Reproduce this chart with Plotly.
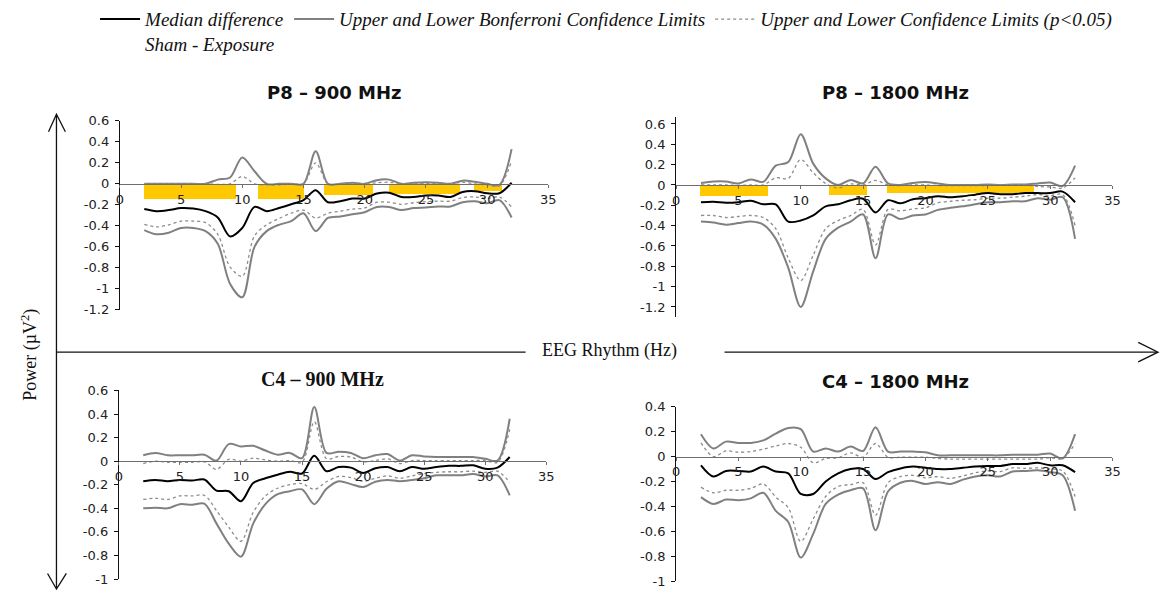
import plotly.graph_objects as go

# Frequency grid (Hz)
freq = list(range(2, 33))

# ---- P8 - 900 MHz ----
p8_900_median = [-0.24, -0.26, -0.25, -0.23, -0.235, -0.26, -0.32, -0.50, -0.42, -0.22, -0.26, -0.23, -0.195, -0.155,
                 -0.06, -0.175, -0.165, -0.14, -0.14, -0.093, -0.085, -0.125, -0.125, -0.11, -0.11, -0.125, -0.077,
                 -0.07, -0.09, -0.09, 0.01]
p8_900_bonf_up = [0.0, 0.0, 0.0, 0.0, 0.0, 0.0, 0.04, 0.06, 0.25, 0.12, 0.0, 0.0, 0.0, 0.0, 0.31, 0.0, 0.0, 0.01, 0.0,
                  0.035, 0.04, 0.0, 0.01, 0.015, 0.01, 0.0, 0.03, 0.02, 0.0, -0.01, 0.33]
p8_900_bonf_lo = [-0.44, -0.48, -0.465, -0.42, -0.42, -0.45, -0.57, -0.95, -1.08, -0.60, -0.45, -0.39, -0.355, -0.28,
                  -0.45, -0.325, -0.31, -0.29, -0.27, -0.22, -0.22, -0.25, -0.23, -0.225, -0.215, -0.215, -0.175,
                  -0.165, -0.185, -0.155, -0.32]
p8_900_ci_up = [0.0, 0.0, 0.0, 0.0, 0.0, 0.0, -0.005, 0.0, 0.07, 0.0, -0.01, -0.01, 0.0, 0.0, 0.2, 0.0, 0.0, 0.0, 0.0,
                0.01, 0.015, 0.0, 0.0, 0.005, 0.0, 0.0, 0.015, 0.0, -0.01, -0.02, 0.22]
p8_900_ci_lo = [-0.385, -0.41, -0.39, -0.355, -0.355, -0.37, -0.48, -0.79, -0.88, -0.495, -0.39, -0.33, -0.28, -0.25,
                -0.325, -0.28, -0.26, -0.24, -0.23, -0.175, -0.175, -0.195, -0.18, -0.17, -0.165, -0.165, -0.13,
                -0.125, -0.14, -0.125, -0.22]
p8_900_band_start = [2.0, 11.3, 16.7, 22.0, 28.9]
p8_900_band_end = [9.5, 15.0, 20.7, 27.8, 31.2]
p8_900_band_depth = [0.145, 0.145, 0.10, 0.096, 0.065]

# ---- P8 - 1800 MHz ----
p8_1800_median = [-0.17, -0.165, -0.175, -0.17, -0.155, -0.19, -0.19, -0.36, -0.35, -0.30, -0.21, -0.19, -0.15,
                  -0.135, -0.27, -0.15, -0.18, -0.14, -0.13, -0.11, -0.12, -0.11, -0.095, -0.08, -0.09, -0.09, -0.08,
                  -0.08, -0.08, -0.065, -0.17]
p8_1800_bonf_up = [0.02, 0.035, 0.035, 0.015, 0.055, 0.03, 0.19, 0.225, 0.50, 0.21, 0.065, 0.0, 0.05, 0.015, 0.18,
                   0.015, 0.0, 0.02, 0.03, 0.015, 0.0, 0.0, 0.0, 0.005, 0.0, 0.005, 0.005, 0.015, 0.025, -0.01, 0.19]
p8_1800_bonf_lo = [-0.36, -0.37, -0.39, -0.375, -0.36, -0.39, -0.53, -0.815, -1.2, -0.85, -0.53, -0.42, -0.36, -0.29,
                   -0.72, -0.29, -0.335, -0.30, -0.29, -0.245, -0.225, -0.21, -0.19, -0.17, -0.17, -0.16, -0.16, -0.13,
                   -0.145, -0.12, -0.53]
p8_1800_ci_up = [0.0, 0.0, 0.0, -0.005, 0.0, 0.0, 0.07, 0.065, 0.25, 0.12, 0.015, -0.03, 0.01, 0.0, 0.045, 0.0,
                 -0.005, 0.0, 0.0, -0.005, -0.005, -0.005, -0.005, -0.005, 0.0, 0.0, 0.0, -0.015, -0.02, -0.03, 0.07]
p8_1800_ci_lo = [-0.30, -0.30, -0.32, -0.31, -0.30, -0.32, -0.43, -0.72, -0.94, -0.69, -0.43, -0.35, -0.30, -0.24,
                 -0.59, -0.24, -0.255, -0.235, -0.225, -0.175, -0.16, -0.15, -0.145, -0.13, -0.13, -0.12, -0.11,
                 -0.095, -0.105, -0.095, -0.40]
p8_1800_band_start = [1.9, 12.25, 16.9]
p8_1800_band_end = [7.4, 15.3, 28.7]
p8_1800_band_depth = [0.105, 0.10, 0.074]

# ---- C4 - 900 MHz ----
c4_900_median = [-0.17, -0.16, -0.17, -0.16, -0.165, -0.155, -0.25, -0.255, -0.34, -0.185, -0.145, -0.115, -0.09,
                 -0.105, 0.045, -0.085, -0.05, -0.055, -0.10, -0.06, -0.05, -0.085, -0.05, -0.065, -0.05, -0.04,
                 -0.04, -0.035, -0.065, -0.055, 0.035]
c4_900_bonf_up = [0.05, 0.07, 0.05, 0.05, 0.05, 0.055, 0.005, 0.145, 0.125, 0.13, 0.09, 0.055, 0.07, 0.025, 0.46,
                  0.07, 0.08, 0.07, 0.025, 0.05, 0.06, 0.005, 0.05, 0.04, 0.035, 0.035, 0.035, 0.035, 0.02, 0.005,
                  0.36]
c4_900_bonf_lo = [-0.40, -0.395, -0.40, -0.365, -0.37, -0.36, -0.53, -0.70, -0.81, -0.53, -0.365, -0.28, -0.255,
                  -0.24, -0.365, -0.235, -0.17, -0.195, -0.22, -0.175, -0.16, -0.17, -0.16, -0.145, -0.12, -0.12,
                  -0.12, -0.11, -0.13, -0.12, -0.29]
c4_900_ci_up = [-0.02, 0.0, -0.01, -0.01, -0.01, -0.005, -0.07, 0.015, 0.0, 0.025, 0.01, 0.0, 0.005, -0.01, 0.335,
                0.02, 0.04, 0.035, -0.005, 0.005, 0.02, -0.02, 0.005, 0.005, 0.005, 0.005, 0.005, 0.005, 0.005,
                -0.01, 0.27]
c4_900_ci_lo = [-0.325, -0.315, -0.325, -0.295, -0.295, -0.29, -0.42, -0.56, -0.68, -0.435, -0.295, -0.23, -0.20,
                -0.19, -0.24, -0.175, -0.13, -0.14, -0.17, -0.145, -0.125, -0.145, -0.125, -0.105, -0.095, -0.09,
                -0.09, -0.085, -0.095, -0.085, -0.18]

# ---- C4 - 1800 MHz ----
c4_1800_median = [-0.07, -0.16, -0.115, -0.115, -0.12, -0.08, -0.12, -0.135, -0.30, -0.30, -0.20, -0.135, -0.10,
                  -0.10, -0.18, -0.125, -0.095, -0.08, -0.09, -0.10, -0.10, -0.09, -0.08, -0.075, -0.075, -0.06,
                  -0.06, -0.05, -0.07, -0.07, -0.125]
c4_1800_bonf_up = [0.18, 0.065, 0.12, 0.11, 0.11, 0.13, 0.185, 0.23, 0.22, 0.04, 0.065, 0.04, 0.08, 0.045, 0.235,
                   0.04, 0.04, 0.04, 0.035, 0.01, 0.01, 0.01, 0.01, 0.01, 0.01, 0.015, 0.015, 0.015, 0.025, -0.015,
                   0.18]
c4_1800_bonf_lo = [-0.325, -0.38, -0.345, -0.35, -0.335, -0.29, -0.435, -0.525, -0.81, -0.62, -0.38, -0.305, -0.27,
                   -0.255, -0.59, -0.28, -0.21, -0.195, -0.22, -0.205, -0.22, -0.185, -0.16, -0.15, -0.16, -0.12,
                   -0.115, -0.11, -0.125, -0.15, -0.435]
c4_1800_ci_up = [0.11, 0.0, 0.045, 0.035, 0.04, 0.06, 0.085, 0.105, 0.075, -0.05, -0.015, -0.01, 0.03, -0.005, 0.105,
                 -0.005, -0.005, -0.005, -0.005, -0.015, -0.02, -0.02, -0.02, -0.02, -0.02, -0.02, -0.02, -0.02,
                 -0.01, -0.015, 0.105]
c4_1800_ci_lo = [-0.245, -0.29, -0.27, -0.27, -0.255, -0.22, -0.325, -0.41, -0.68, -0.50, -0.32, -0.24, -0.225, -0.21,
                 -0.47, -0.21, -0.16, -0.15, -0.17, -0.16, -0.175, -0.155, -0.13, -0.115, -0.12, -0.09, -0.095, -0.09,
                 -0.10, -0.115, -0.32]

# Axis ticks
x_ticks = [0, 5, 10, 15, 20, 25, 30, 35]
y_ticks_p8 = [0.6, 0.4, 0.2, 0, -0.2, -0.4, -0.6, -0.8, -1, -1.2]
y_ticks_c4_900 = [0.6, 0.4, 0.2, 0, -0.2, -0.4, -0.6, -0.8, -1]
y_ticks_c4_1800 = [0.4, 0.2, 0, -0.2, -0.4, -0.6, -0.8, -1]

W, H = 1168, 599


def px(x):
    return x / W


def py(y):
    return 1 - y / H


BLACK = "#000000"
GRAY = "#808080"
DOT = "#8c8c8c"
GOLD = "#FFC800"

panels = [
    dict(title="P8 – 900 MHz", tfont=dict(family="DejaVu Sans", size=18, color="#111", weight="bold"),
         tpos=(334, 88), dom_x=(117, 550), dom_y=(116.7, 310.7), yrange=(-1.2, 0.6), yticks=y_ticks_p8,
         med=p8_900_median, bu=p8_900_bonf_up, bl=p8_900_bonf_lo, cu=p8_900_ci_up, cl=p8_900_ci_lo,
         bands=(p8_900_band_start, p8_900_band_end, p8_900_band_depth)),
    dict(title="P8 – 1800 MHz", tfont=dict(family="DejaVu Sans", size=18, color="#111", weight="bold"),
         tpos=(901, 88), dom_x=(679, 1120), dom_y=(112.7, 318.1), yrange=(-1.3, 0.67), yticks=y_ticks_p8,
         med=p8_1800_median, bu=p8_1800_bonf_up, bl=p8_1800_bonf_lo, cu=p8_1800_ci_up, cl=p8_1800_ci_lo,
         bands=(p8_1800_band_start, p8_1800_band_end, p8_1800_band_depth)),
    dict(title="C4 – 900 MHz", tfont=dict(family="Liberation Serif", size=20, color="#111", weight="bold"),
         tpos=(322, 382), dom_x=(116, 548), dom_y=(393.3, 586.7), yrange=(-1.0, 0.6), yticks=y_ticks_c4_900,
         med=c4_900_median, bu=c4_900_bonf_up, bl=c4_900_bonf_lo, cu=c4_900_ci_up, cl=c4_900_ci_lo, bands=None),
    dict(title="C4 – 1800 MHz", tfont=dict(family="DejaVu Sans", size=18, color="#111", weight="bold"),
         tpos=(901, 384), dom_x=(679, 1120), dom_y=(410, 589), yrange=(-1.0, 0.4), yticks=y_ticks_c4_1800,
         med=c4_1800_median, bu=c4_1800_bonf_up, bl=c4_1800_bonf_lo, cu=c4_1800_ci_up, cl=c4_1800_ci_lo,
         bands=None),
]

fig = go.Figure()
layout_axes = {}
annotations = []

tick_font = dict(family="DejaVu Sans", size=13, color="#222")

for i, p in enumerate(panels, start=1):
    sfx = "" if i == 1 else str(i)
    xa, ya = f"x{sfx}", f"y{sfx}"
    first = i == 1

    # significance bands hanging below the zero line
    if p["bands"]:
        s, e, d = p["bands"]
        fig.add_trace(go.Bar(
            x=[(a + b) / 2 for a, b in zip(s, e)], width=[b - a for a, b in zip(s, e)],
            y=[-v for v in d], base=0, marker=dict(color=GOLD, line=dict(width=0)),
            xaxis=xa, yaxis=ya, showlegend=False, hoverinfo="skip"))

    common = dict(x=freq, mode="lines", xaxis=xa, yaxis=ya, hoverinfo="skip")
    fig.add_trace(go.Scatter(y=p["bl"], line=dict(color=GRAY, width=2, shape="spline", smoothing=0.9),
                             showlegend=False, legendgroup="bonf", **common))
    fig.add_trace(go.Scatter(y=p["bu"], line=dict(color=GRAY, width=2, shape="spline", smoothing=0.9),
                             name="Upper and Lower Bonferroni Confidence Limits", legendgroup="bonf",
                             legendrank=2, showlegend=first, **common))
    fig.add_trace(go.Scatter(y=p["cl"], line=dict(color=DOT, width=1.3, dash="dot", shape="spline", smoothing=0.9),
                             showlegend=False, legendgroup="ci", **common))
    fig.add_trace(go.Scatter(y=p["cu"], line=dict(color=DOT, width=1.3, dash="dot", shape="spline", smoothing=0.9),
                             name="Upper and Lower Confidence Limits (p<0.05)", legendgroup="ci",
                             legendrank=3, showlegend=first, **common))
    fig.add_trace(go.Scatter(y=p["med"], line=dict(color=BLACK, width=2, shape="spline", smoothing=0.9),
                             name="Median difference<br>Sham - Exposure", legendgroup="med",
                             legendrank=1, showlegend=first, **common))

    ymin, ymax = p["yrange"]
    y_top, y_bot = py(p["dom_y"][0]), py(p["dom_y"][1])
    zero_pos = y_bot + (0 - ymin) / (ymax - ymin) * (y_top - y_bot)

    layout_axes[f"xaxis{sfx}"] = dict(
        domain=[px(p["dom_x"][0]), px(p["dom_x"][1])], range=[0, 35], tickvals=x_ticks,
        ticktext=[str(v) for v in x_ticks], anchor="free", position=zero_pos,
        showline=True, linecolor="#6e6e6e", linewidth=1.2, ticks="outside", ticklen=3, tickcolor="#6e6e6e",
        showgrid=False, zeroline=False, tickfont=tick_font, layer="above traces")
    layout_axes[f"yaxis{sfx}"] = dict(
        domain=[y_bot, y_top], range=[ymin, ymax], tickvals=p["yticks"],
        ticktext=[f"{v:g}" for v in p["yticks"]], anchor=xa,
        showline=True, linecolor="#111", linewidth=1, ticks="outside", ticklen=4, tickcolor="#111",
        ticklabelstandoff=3, showgrid=False, zeroline=False, tickfont=tick_font)

    annotations.append(dict(text=p["title"], x=px(p["tpos"][0]), y=py(p["tpos"][1]), xref="paper", yref="paper",
                            xanchor="center", yanchor="middle", showarrow=False, font=p["tfont"]))

serif = dict(family="Liberation Serif", size=18, color="#111")
annotations.append(dict(text="EEG Rhythm (Hz)", x=px(612), y=py(352), xref="paper", yref="paper",
                        xanchor="center", yanchor="middle", showarrow=False, font=serif))
annotations.append(dict(text="Power (µV<sup>2</sup>)", x=px(26), y=py(357), xref="paper", yref="paper",
                        xanchor="center", yanchor="middle", showarrow=False, textangle=-90, font=serif))

# Global axis arrows
ax_line = dict(color="#111", width=1.3)
shapes = [
    dict(type="line", xref="paper", yref="paper", x0=px(53), x1=px(53), y0=py(111), y1=py(596), line=ax_line),
    dict(type="path", xref="paper", yref="paper",
         path=f"M {px(45)} {py(128)} L {px(53)} {py(110)} L {px(62)} {py(128)}", line=ax_line),
    dict(type="path", xref="paper", yref="paper",
         path=f"M {px(44)} {py(581)} L {px(53)} {py(597)} L {px(63)} {py(581)}", line=ax_line),
    dict(type="line", xref="paper", yref="paper", x0=px(53), x1=px(527), y0=py(354), y1=py(354), line=ax_line),
    dict(type="line", xref="paper", yref="paper", x0=px(728), x1=px(1165), y0=py(354), y1=py(354), line=ax_line),
    dict(type="path", xref="paper", yref="paper",
         path=f"M {px(1146)} {py(344)} L {px(1166)} {py(354)} L {px(1146)} {py(364)}", line=ax_line),
]

fig.update_layout(
    width=W, height=H, margin=dict(l=0, r=0, t=0, b=0),
    paper_bgcolor="white", plot_bgcolor="white",
    barmode="overlay", bargap=0,
    showlegend=True,
    legend=dict(orientation="h", x=px(92), y=py(-7), xanchor="left", yanchor="top", valign="top",
                font=dict(family="Liberation Serif", size=19, color="#111", style="italic"),
                traceorder="normal", itemwidth=40, bgcolor="rgba(0,0,0,0)"),
    annotations=annotations, shapes=shapes,
    **layout_axes,
)

fig.write_html("out.html")
